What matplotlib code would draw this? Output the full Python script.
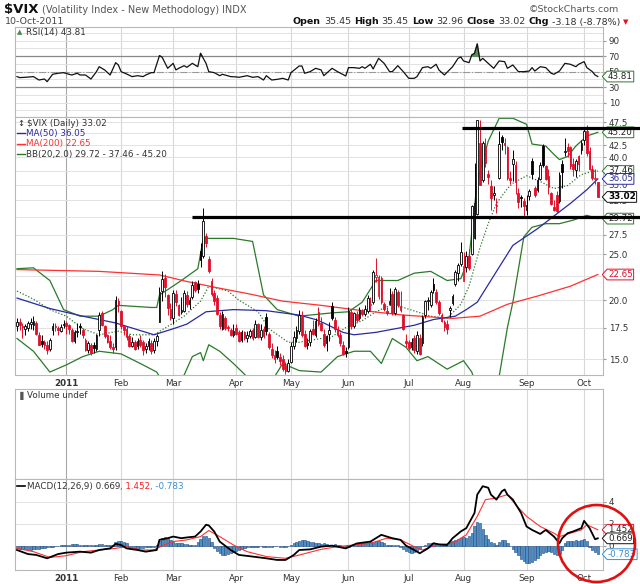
import numpy as np
import pandas as pd
import matplotlib
matplotlib.use("Agg")
import matplotlib.pyplot as plt
from matplotlib.patches import Ellipse
from matplotlib.path import Path
from matplotlib.ticker import FixedLocator, FixedFormatter, NullLocator

W, H = 640, 584
RED = "#e0102a"
BLUE = "#2a2aa0"
GREEN = "#2a7a2a"
GRID = "#e2e2e2"
TXT = "#333333"

# trading calendar
holidays = ["2010-12-24", "2011-01-17", "2011-02-21", "2011-04-22",
            "2011-05-30", "2011-07-04", "2011-09-05"]
dates = pd.bdate_range("2010-12-07", "2011-10-10", freq="C", holidays=holidays)

# daily candles (open, high, low, close)
ohlc_dec = [(17.6, 18.3, 17.2, 17.99), (18.0, 18.3, 17.3, 17.74), (17.6, 17.9, 16.6, 17.55),
            (17.4, 17.8, 16.9, 17.61), (17.5, 18.1, 17.2, 17.86), (17.8, 18.3, 17.4, 17.94),
            (17.7, 18.5, 17.3, 18.10), (17.9, 18.1, 16.9, 16.99), (16.9, 17.1, 16.1, 16.11),
            (16.4, 16.9, 15.9, 16.16), (16.3, 16.5, 15.8, 16.10), (16.1, 16.4, 15.4, 15.70),
            (15.8, 16.6, 15.6, 16.47), (17.3, 17.9, 16.9, 17.67), (17.6, 17.9, 17.2, 17.52),
            (17.5, 17.6, 16.9, 17.28), (17.2, 17.8, 17.1, 17.52), (17.7, 18.2, 17.5, 17.75)]
ohlc_jan = [(17.9, 18.1, 17.0, 17.61), (17.7, 17.8, 17.0, 17.38), (17.3, 17.5, 16.3, 16.38),
            (16.4, 17.3, 16.2, 17.14), (17.1, 17.9, 16.7, 17.14), (17.6, 17.9, 17.0, 17.54),
            (17.3, 17.5, 16.6, 16.89), (16.5, 16.6, 15.6, 15.70), (15.7, 16.4, 15.5, 16.23),
            (16.1, 16.2, 15.3, 15.46), (16.1, 16.3, 15.5, 15.87), (15.8, 17.0, 15.6, 16.90),
            (17.3, 18.9, 16.8, 18.60), (18.8, 19.0, 17.6, 17.70), (17.6, 17.7, 16.6, 16.80),
            (16.9, 17.0, 16.2, 16.30), (16.4, 16.9, 15.8, 15.90), (15.9, 16.2, 15.5, 15.80),
            (15.9, 20.4, 15.7, 20.04), (19.9, 20.2, 18.9, 19.53)]
ohlc_feb = [(19.0, 19.1, 17.4, 17.63), (17.6, 17.7, 16.9, 17.30), (17.4, 17.6, 16.5, 16.69),
            (16.8, 17.0, 15.9, 16.00), (16.0, 16.7, 15.9, 16.28), (16.3, 16.5, 15.7, 15.81),
            (16.0, 16.6, 15.8, 16.37), (16.5, 16.9, 15.9, 16.09), (16.3, 16.5, 15.3, 15.69),
            (15.8, 16.2, 15.5, 16.02), (16.0, 16.6, 15.7, 16.37), (16.2, 16.5, 15.4, 15.60),
            (15.7, 16.6, 15.5, 16.43), (16.4, 17.0, 16.0, 16.80), (18.0, 21.3, 18.0, 20.80),
            (20.9, 23.0, 19.9, 22.13), (22.3, 22.7, 20.3, 21.32), (20.5, 20.6, 18.6, 19.22),
            (19.2, 19.7, 18.2, 18.35)]
ohlc_mar = [(18.3, 21.0, 17.8, 20.70), (20.6, 21.0, 19.4, 19.85), (19.5, 19.6, 18.5, 18.60),
            (18.9, 20.3, 18.7, 19.06), (19.0, 21.0, 18.9, 20.66), (20.5, 20.9, 19.3, 19.60),
            (19.6, 20.3, 19.2, 20.00), (20.3, 22.0, 20.1, 21.50), (21.8, 22.0, 20.8, 21.00),
            (21.6, 22.1, 20.7, 21.13), (25.4, 26.4, 23.5, 24.32), (24.8, 31.3, 24.6, 29.40),
            (27.3, 27.7, 25.9, 26.40), (24.4, 24.8, 22.8, 23.00), (22.0, 22.3, 20.4, 20.61),
            (20.7, 21.0, 19.5, 19.90), (20.2, 20.5, 18.6, 18.70), (18.6, 18.9, 17.4, 17.60),
            (17.4, 19.0, 17.3, 18.70), (18.3, 18.5, 17.3, 17.50), (17.5, 17.7, 17.2, 17.45),
            (17.3, 17.5, 16.8, 16.90), (16.9, 17.8, 16.7, 17.20)]
ohlc_apr = [(17.5, 17.8, 16.9, 17.00), (17.1, 17.3, 16.3, 16.40), (16.5, 17.3, 16.3, 17.10),
            (17.1, 17.2, 16.5, 16.60), (16.6, 17.2, 16.3, 16.90), (16.8, 17.4, 16.6, 17.20),
            (17.3, 17.5, 16.5, 16.60), (16.7, 18.2, 16.6, 17.80), (17.8, 17.9, 16.6, 16.70),
            (16.7, 17.8, 16.5, 17.30), (17.4, 17.6, 16.6, 16.80), (18.4, 18.8, 16.9, 17.20),
            (17.0, 17.1, 15.8, 15.90), (15.8, 16.2, 15.1, 15.30), (15.3, 15.7, 14.7, 15.00),
            (15.6, 16.0, 15.0, 15.20), (15.2, 15.5, 14.6, 14.90), (15.0, 15.3, 14.2, 14.30),
            (14.5, 14.8, 14.0, 14.20), (14.2, 15.0, 14.1, 14.75)]
ohlc_may = [(14.8, 16.3, 14.7, 15.99), (16.0, 17.2, 15.8, 16.70), (16.6, 17.6, 16.3, 17.30),
            (17.2, 19.1, 17.0, 18.60), (18.4, 19.0, 16.7, 16.90), (17.0, 17.3, 15.9, 16.00),
            (16.2, 16.6, 15.8, 16.10), (16.3, 17.4, 16.0, 17.20), (17.4, 18.2, 16.9, 17.00),
            (16.9, 18.3, 16.7, 18.10), (18.9, 19.3, 17.6, 17.80), (17.9, 18.4, 17.2, 17.30),
            (17.0, 17.4, 15.9, 16.10), (16.2, 16.9, 15.6, 16.80), (17.0, 18.0, 16.4, 17.30),
            (19.4, 19.8, 18.2, 18.30), (18.2, 18.4, 17.1, 17.40), (17.4, 17.6, 16.7, 16.90),
            (16.9, 17.1, 16.0, 16.20), (16.1, 16.4, 15.3, 15.40), (15.6, 15.9, 15.2, 15.45)]
ohlc_jun = [(15.9, 19.3, 15.8, 19.00), (18.9, 19.2, 17.4, 17.60), (17.6, 18.9, 17.5, 18.80),
            (18.7, 19.0, 18.0, 18.20), (18.3, 19.3, 18.2, 19.10), (19.0, 19.2, 18.5, 18.70),
            (18.7, 19.5, 18.5, 19.20), (19.0, 20.5, 18.8, 20.20), (19.5, 20.3, 19.0, 19.60),
            (19.8, 23.2, 19.6, 22.90), (22.4, 24.5, 21.8, 22.60), (20.4, 22.6, 20.1, 22.40),
            (22.3, 22.5, 19.6, 19.80), (19.6, 19.8, 19.0, 19.20), (19.0, 19.3, 18.6, 18.80),
            (19.6, 21.2, 19.5, 19.90), (20.6, 20.9, 18.6, 18.80), (18.8, 21.3, 18.6, 21.10),
            (20.8, 21.0, 19.3, 19.50), (19.4, 20.9, 18.9, 19.10), (18.6, 18.7, 17.3, 17.40),
            (16.4, 17.0, 15.9, 16.20)]
ohlc_jul = [(16.3, 16.5, 15.7, 15.87), (15.9, 16.6, 15.7, 16.34), (16.6, 16.9, 15.5, 15.70),
            (15.6, 17.2, 15.4, 16.90), (16.6, 17.0, 15.3, 15.40), (16.2, 18.6, 16.0, 18.39),
            (18.6, 20.0, 18.3, 19.87), (19.9, 20.3, 19.1, 20.00), (19.5, 21.0, 19.3, 20.80),
            (21.6, 22.3, 20.7, 21.00), (20.8, 21.1, 19.6, 19.80), (19.8, 20.0, 18.6, 18.80),
            (18.6, 18.8, 18.0, 18.10), (18.0, 18.2, 17.2, 17.52), (17.8, 18.2, 17.0, 17.35),
            (19.1, 19.4, 18.4, 19.20), (19.7, 20.6, 19.5, 20.40), (21.6, 23.2, 21.4, 22.98),
            (22.8, 24.0, 22.0, 23.74), (23.8, 26.5, 23.6, 25.25)]
ohlc_aug = [(22.0, 25.3, 21.9, 23.66), (23.5, 25.4, 22.9, 24.79), (24.8, 25.7, 23.1, 23.38),
            (25.0, 31.8, 24.9, 31.66), (27.0, 39.0, 26.9, 32.00), (30.4, 48.0, 30.2, 48.00),
            (43.0, 48.0, 35.0, 35.06), (35.8, 43.3, 35.5, 42.99), (42.2, 44.0, 38.2, 39.00),
            (36.9, 37.7, 35.2, 36.36), (34.8, 35.9, 31.0, 32.85), (33.4, 34.8, 32.6, 33.40),
            (31.8, 32.9, 30.5, 31.58), (36.2, 45.5, 36.0, 42.67), (44.2, 44.7, 41.5, 43.05),
            (42.9, 44.0, 40.6, 42.44), (42.0, 42.3, 35.9, 36.27), (36.2, 37.5, 35.2, 35.90),
            (38.8, 41.5, 35.7, 39.76), (38.5, 39.3, 33.5, 35.59), (33.6, 34.5, 31.3, 32.28),
            (32.9, 33.4, 31.4, 32.89), (32.4, 32.9, 29.8, 31.62)]
ohlc_sep = [(31.0, 33.3, 30.2, 31.82), (33.2, 34.4, 32.5, 33.92), (39.3, 39.9, 36.1, 37.00),
            (34.5, 34.9, 33.0, 33.38), (34.2, 36.4, 33.8, 35.90), (36.0, 39.2, 35.8, 38.52),
            (42.3, 42.7, 38.2, 38.59), (38.3, 38.6, 35.9, 36.10), (36.6, 37.8, 33.5, 34.60),
            (33.6, 33.9, 31.8, 31.97), (31.5, 32.6, 30.8, 30.98), (33.4, 34.0, 30.6, 30.90),
            (32.4, 37.2, 32.0, 36.80), (38.7, 39.5, 34.5, 37.32), (41.0, 43.9, 40.3, 41.35),
            (42.0, 43.0, 40.0, 41.25), (42.0, 42.4, 37.8, 38.40), (38.8, 39.9, 36.5, 37.80),
            (37.6, 39.8, 36.3, 39.30), (40.3, 40.5, 37.5, 38.84), (41.5, 43.5, 40.6, 42.96)]
ohlc_oct = [(43.5, 46.2, 42.5, 45.45), (45.5, 46.9, 40.2, 40.82), (41.2, 42.0, 37.6, 37.81),
            (37.9, 38.6, 35.8, 36.27), (36.0, 37.9, 35.2, 36.20), (35.45, 35.45, 32.96, 33.02)]

# overlays: (bar index, value)
ma50_idx = [0, 12, 24, 36, 50, 57, 62, 69, 79, 91, 103, 109, 112, 119, 123, 131, 138, 145,
            152, 160, 164, 168, 174, 181, 190, 196, 202, 208, 212]
ma50_val = [20.2, 19.2, 18.5, 17.9, 16.9, 17.4, 17.8, 18.9, 19.1, 19.0, 18.6, 18.2, 17.9, 17.1,
            16.9, 17.1, 17.4, 17.7, 18.2, 18.5, 19.1, 19.8, 22.5, 26.1, 28.3, 30.1, 32.0, 34.2, 36.05]
ma200_idx = [0, 30, 52, 62, 72, 85, 97, 111, 123, 141, 159, 169, 179, 190, 202, 212]
ma200_val = [23.2, 23.0, 22.6, 21.9, 21.3, 20.6, 19.9, 19.5, 19.1, 18.6, 18.3, 18.5, 19.6,
             20.4, 21.4, 22.65]
bbu_idx = [0, 6, 12, 17, 23, 30, 35, 37, 49, 51, 52, 60, 66, 68, 79, 86, 90, 95, 103, 111,
           115, 121, 126, 131, 139, 145, 151, 157, 162, 165, 168, 172, 176, 181, 186, 188,
           193, 196, 198, 201, 204, 208, 212]
bbu_val = [23.3, 23.4, 22.0, 19.1, 18.5, 18.5, 19.1, 19.5, 19.3, 19.3, 20.5, 22.0, 23.3,
           27.0, 27.0, 26.6, 20.5, 19.1, 18.5, 18.7, 18.8, 18.9, 19.8, 22.0, 22.0, 22.8, 23.0,
           22.0, 22.2, 24.6, 35.6, 43.3, 48.4, 48.4, 47.0, 42.7, 42.3, 40.6, 39.6, 40.2, 42.3,
           44.4, 45.20]
bbl_idx = [0, 6, 12, 18, 24, 30, 38, 45, 51, 54, 58, 61, 64, 67, 68, 70, 74, 79, 85, 89,
           92, 97, 103, 111, 117, 123, 129, 133, 137, 142, 146, 150, 157, 163, 166, 169,
           172, 175, 176, 179, 181, 185, 188, 193, 198, 203, 208, 212]
bbl_val = [16.6, 15.6, 14.1, 14.6, 15.2, 15.6, 15.4, 14.7, 14.1, 13.2, 13.2, 13.9, 15.2,
           15.5, 14.9, 16.1, 15.6, 14.7, 13.6, 12.8, 13.2, 14.7, 14.2, 14.1, 15.2, 15.6, 15.6,
           14.7, 16.6, 15.9, 14.9, 15.2, 14.3, 14.9, 14.1, 12.5, 10.5, 11.0, 13.8, 17.5, 19.8,
           27.2, 28.5, 29.0, 29.0, 29.5, 30.2, 29.72]
bbm_idx = [0, 6, 12, 18, 24, 30, 37, 42, 50, 55, 61, 67, 70, 77, 81, 88, 92, 99, 103, 111,
           114, 120, 126, 131, 137, 141, 146, 151, 157, 162, 165, 169, 172, 175, 179, 181,
           186, 191, 196, 201, 206, 210, 212]
bbm_val = [20.9, 20.1, 19.1, 18.5, 17.4, 16.9, 17.2, 16.9, 16.9, 17.6, 18.5, 19.9, 21.4,
           20.9, 20.0, 18.9, 17.4, 16.3, 16.3, 16.6, 16.6, 17.5, 18.1, 18.9, 19.6, 19.3, 18.9,
           18.5, 18.3, 19.6, 21.4, 25.8, 29.0, 32.0, 34.4, 35.3, 36.6, 35.6, 34.4, 34.9, 36.8,
           37.4, 37.46]

rsi_idx = [0, 1, 3, 6, 8, 10, 11, 13, 15, 17, 19, 20, 22, 23, 25, 27, 29, 30, 32, 34, 36,
           37, 38, 40, 42, 44, 46, 47, 49, 50, 52, 53, 55, 57, 58, 59, 61, 62, 64, 66, 67, 69,
           70, 72, 74, 75, 78, 80, 81, 84, 86, 88, 90, 91, 93, 95, 97, 99, 100, 103, 104, 105,
           107, 109, 111, 112, 115, 117, 120, 121, 123, 125, 126, 127, 129, 130, 132, 134,
           136, 137, 139, 141, 143, 145, 146, 148, 150, 151, 153, 154, 156, 159, 161, 162,
           163, 165, 166, 167, 168, 169, 170, 172, 174, 176, 178, 179, 181, 183, 185, 187,
           188, 189, 191, 193, 195, 196, 198, 200, 202, 204, 205, 207, 208, 210, 211, 212]
rsi_val = [43.7, 42.4, 42.8, 43.7, 39.3, 40.6, 37.2, 46.7, 48.0, 48.8, 46.7, 45.8, 48.0,
           45.8, 45.8, 40.6, 50.1, 56.5, 52.3, 45.8, 61.7, 58.7, 50.1, 47.1, 43.7, 44.9, 43.7,
           45.8, 48.8, 48.8, 70.7, 68.6, 54.4, 60.8, 52.3, 54.4, 57.8, 55.7, 60.8, 56.5, 73.7,
           60.8, 50.1, 48.8, 44.9, 46.7, 43.7, 43.3, 42.8, 44.9, 42.8, 43.7, 39.3, 44.9, 39.3,
           40.2, 41.5, 39.3, 48.8, 57.4, 57.4, 48.0, 50.1, 54.4, 52.3, 44.9, 54.4, 50.1, 44.5,
           55.3, 55.3, 54.4, 56.5, 54.4, 59.6, 53.6, 67.3, 60.8, 50.1, 50.1, 57.8, 50.1, 41.5,
           41.5, 43.7, 55.3, 56.5, 54.4, 59.6, 52.3, 45.8, 56.5, 67.3, 69.0, 63.9, 61.7, 71.6,
           73.7, 85.8, 63.9, 67.3, 60.8, 54.4, 63.9, 63.0, 54.4, 58.7, 50.1, 50.1, 50.9, 55.3,
           50.9, 56.5, 55.3, 48.0, 46.7, 50.9, 60.8, 59.6, 56.5, 59.6, 63.0, 55.3, 50.1, 45.8,
           43.81]

macd_idx = [0, 4, 7, 11, 15, 18, 23, 27, 30, 34, 36, 38, 40, 44, 47, 51, 52, 55, 57, 60,
            62, 65, 67, 69, 70, 72, 74, 78, 81, 86, 91, 95, 98, 101, 103, 107, 111, 115, 120,
            124, 129, 133, 135, 137, 140, 142, 145, 147, 150, 152, 154, 157, 159, 162, 164,
            167, 168, 170, 172, 173, 175, 177, 178, 179, 181, 184, 186, 188, 191, 193, 196,
            198, 199, 201, 203, 206, 207, 209, 211, 212]
macd_val = [-0.40, -0.77, -0.85, -1.16, -0.77, -0.64, -0.55, -0.64, -0.40, -0.25, 0.16,
            0.06, -0.25, -0.40, -0.55, -0.40, 0.53, 0.68, 0.83, 0.68, 0.75, 0.83, 1.29, 1.91,
            1.85, 1.29, 0.37, -0.40, -0.85, -1.00, -1.16, -1.31, -1.31, -0.86, -0.40, -0.34,
            -0.09, 0.00, -0.25, 0.20, 0.37, 0.99, 0.83, 0.68, 0.53, 0.00, -0.40, -0.70, -0.25,
            0.22, 0.12, 0.06, 0.68, 1.30, 1.60, 2.99, 4.67, 5.44, 5.30, 4.67, 4.21, 4.98,
            5.14, 4.67, 4.21, 2.99, 1.75, 1.44, 1.07, 1.44, 0.83, 0.22, 0.68, 1.14, 1.30,
            1.60, 2.27, 1.60, 0.59, 0.669]
signal_idx = [0, 6, 12, 18, 24, 30, 36, 40, 45, 50, 53, 57, 62, 67, 70, 74, 79, 84, 91,
              98, 103, 111, 117, 123, 129, 135, 140, 145, 148, 153, 159, 164, 168, 171, 175,
              179, 182, 186, 191, 196, 198, 202, 206, 208, 212]
signal_val = [-0.25, -0.55, -1.08, -0.92, -0.55, -0.40, -0.25, -0.09, -0.40, -0.40, 0.00,
              0.37, 0.53, 0.83, 1.38, 0.83, 0.06, -0.55, -1.00, -1.16, -0.86, -0.34, -0.09,
              0.06, 0.22, 0.68, 0.53, -0.09, -0.40, 0.06, 0.22, 0.99, 2.68, 4.21, 4.36, 4.67,
              3.75, 2.68, 1.75, 1.14, 0.83, 1.14, 1.44, 1.91, 1.452]
hist_val = [-0.2, -0.3, -0.3, -0.3, -0.4, -0.4, -0.3, -0.3, -0.3, -0.2, -0.2,
            -0.1, -0.1, -0.1, 0.0, 0.0, 0.1, 0.1,
            0.1, 0.1, 0.15, 0.15, 0.15, 0.1, 0.1, 0.1, 0.05, 0.05, 0.1, 0.1, 0.15, 0.15, 0.1,
            0.1, 0.05, 0.05, 0.3,
            0.4, 0.4, 0.3, 0.2,
            -0.1, -0.15, -0.2, -0.2, -0.2, -0.2, -0.15, -0.15, -0.1, -0.1,
            0.1, 0.4, 0.7, 0.8, 0.7, 0.5,
            0.3, 0.2, 0.2, 0.2, 0.15, 0.15, 0.1, 0.1, 0.1,
            0.3, 0.6, 0.9, 0.9, 0.7,
            0.3, -0.2, -0.5, -0.7, -0.9, -0.9,
            -0.8, -0.7, -0.6, -0.5, -0.4, -0.3,
            -0.2, -0.15, -0.1, -0.1, -0.1, -0.1, -0.05, -0.1, -0.1, -0.1, -0.1, -0.05, -0.05,
            -0.1, -0.1, -0.1, -0.05, 0.05,
            0.2, 0.3, 0.4, 0.5, 0.5, 0.4, 0.35, 0.3, 0.25, 0.2,
            0.15, 0.2, 0.15, 0.1, 0.1, 0.15, 0.1, 0.05,
            -0.05, -0.15, -0.1, 0.0, 0.05,
            0.1, 0.15, 0.2, 0.2, 0.25, 0.3, 0.35, 0.4, 0.4, 0.3,
            0.2, 0.1, 0.1, 0.05, 0.1, 0.05,
            -0.1, -0.3, -0.5, -0.6, -0.7, -0.6, -0.5, -0.3,
            0.0, 0.1, 0.2, 0.2, 0.2, 0.15, 0.1, 0.1, 0.05, 0.05,
            0.3, 0.4, 0.5, 0.6, 0.7, 0.8, 0.7, 0.9,
            1.2, 1.8, 2.2, 2.1, 1.5, 1.0,
            0.6, 0.3, 0.2, 0.1, 0.3,
            0.5, 0.5, 0.2, 0.0,
            -0.3, -0.6, -0.9, -1.2, -1.4,
            -1.6, -1.6, -1.5, -1.3, -1.1,
            -0.9, -0.7, -0.6, -0.5, -0.6, -0.8,
            -0.9, -0.8, -0.4,
            0.2, 0.4, 0.4, 0.4, 0.5, 0.4, 0.5, 0.6,
            0.4, -0.1, -0.4, -0.6, -0.783]

resistance = 46.1
support = 30.0

ohlc = np.array(ohlc_dec + ohlc_jan + ohlc_feb + ohlc_mar + ohlc_apr + ohlc_may +
                ohlc_jun + ohlc_jul + ohlc_aug + ohlc_sep + ohlc_oct)
opens, highs, lows, closes = ohlc.T
x = np.arange(len(dates))
n = min(len(x), len(ohlc))
x, opens, highs, lows, closes = x[:n], opens[:n], highs[:n], lows[:n], closes[:n]
hist_val = np.array(hist_val[:n])

# month starts for gridlines / labels
month_pos, month_lab = [], []
for i in range(1, len(dates)):
    if dates[i].month != dates[i - 1].month:
        month_pos.append(i)
        month_lab.append("2011" if dates[i].month == 1 else dates[i].strftime("%b"))

XMIN, XMAX = -0.73, 213.9


def rect(top, bottom, left=15, right=603):
    return [left / W, 1 - bottom / H, (right - left) / W, (bottom - top) / H]


def fx(px):
    return px / W


def fy(py):
    return 1 - py / H


def style_panel(ax, show_x=False):
    ax.set_xlim(XMIN, XMAX)
    for s in ax.spines.values():
        s.set_color("#b8b8b8")
        s.set_linewidth(0.8)
    ax.yaxis.tick_right()
    ax.tick_params(axis="y", length=2, color="#999999", labelsize=6.3, labelcolor=TXT, pad=2)
    ax.set_xticks(month_pos)
    ax.tick_params(axis="x", length=0, labelsize=6.3, labelcolor=TXT, pad=3)
    if show_x:
        ax.set_xticklabels(month_lab)
        for lab in ax.get_xticklabels():
            if lab.get_text() == "2011":
                lab.set_fontweight("bold")
    else:
        ax.set_xticklabels([])
    for p, lab in zip(month_pos, month_lab):
        ax.axvline(p, color="#a8a8a8" if lab == "2011" else "#d8d8d8", lw=0.8, zorder=0)


def notch_box(x0, y0, width, height, mutation_size):
    # value tag: small box with a pointed left side
    pad = 0.1 * mutation_size
    x0, y0 = x0 - pad, y0 - pad
    x1, y1 = x0 + width + 2 * pad, y0 + height + 2 * pad
    d = (y1 - y0) * 0.45
    return Path([(x0, y0), (x1, y0), (x1, y1), (x0, y1), (x0 - d, (y0 + y1) / 2),
                 (x0, y0), (x0, y0)], closed=True)


def tag(ax, y, s, ec, tc="#222222", bold=False):
    ax.annotate(s, xy=(1, y), xycoords=("axes fraction", "data"), xytext=(3.6, 0),
                textcoords="offset points", ha="left", va="center", fontsize=6.3, color=tc,
                fontweight="bold" if bold else "normal", annotation_clip=False, zorder=6,
                bbox=dict(boxstyle=notch_box, fc="white", ec=ec, lw=0.7))


fig = plt.figure(figsize=(W / 100, H / 100), dpi=100)
fig.patch.set_facecolor("white")
renderer = fig.canvas.get_renderer()


def text_run(px, py, pieces, ha="left", gap=3):
    # pieces: (text, size, weight, color), laid out left to right
    arts = []
    for s, size, weight, color in pieces:
        arts.append(fig.text(0, fy(py), s, fontsize=size, fontweight=weight, color=color,
                             va="center"))
    widths = [a.get_window_extent(renderer).width for a in arts]
    total = sum(widths) + gap * (len(arts) - 1)
    cur = px - total if ha == "right" else px
    for a, w in zip(arts, widths):
        a.set_x(fx(cur))
        cur += w + gap


# header
text_run(4, 10, [("$VIX", 9.5, "bold", "#111111"),
                 ("(Volatility Index - New Methodology)", 7, "normal", "#555555"),
                 ("INDX", 7, "normal", "#555555")])
fig.text(fx(5), fy(22), "10-Oct-2011", fontsize=6.8, color="#444444", va="center")
fig.text(fx(619), fy(9), "\u00a9StockCharts.com", fontsize=6.8, color="#555555",
         va="center", ha="right")
B, N, C1, C2 = "bold", "normal", "#111111", "#333333"
text_run(620, 22, [("Open", 6.8, B, C1), ("35.45", 6.8, N, C2), ("High", 6.8, B, C1),
                   ("35.45", 6.8, N, C2), ("Low", 6.8, B, C1), ("32.96", 6.8, N, C2),
                   ("Close", 6.8, B, C1), ("33.02", 6.8, N, C2), ("Chg", 6.8, B, C1),
                   ("-3.18 (-8.78%)", 6.8, N, C2)], ha="right")
fig.text(fx(623), fy(22), "\u25bc", fontsize=5, color=RED, va="center")

# RSI panel
ax_rsi = fig.add_axes(rect(27, 117))
style_panel(ax_rsi)
ax_rsi.set_ylim(-8.4, 107.7)
ax_rsi.set_yticks([10, 30, 50, 70, 90])
for lvl in range(0, 101, 10):
    ax_rsi.axhline(lvl, color=GRID, lw=0.7, zorder=0)
ax_rsi.axhline(70, color="#888888", lw=0.9, zorder=1)
ax_rsi.axhline(30, color="#888888", lw=0.9, zorder=1)
ax_rsi.axhline(50, color="#999999", lw=0.8, ls="-.", zorder=1)
rsi_x = np.array(rsi_idx, dtype=float)
rsi_y = np.array(rsi_val)
ax_rsi.fill_between(rsi_x, rsi_y, 70, where=rsi_y > 70, interpolate=True,
                    color="#5a8f5a", zorder=2)
ax_rsi.plot(rsi_x, rsi_y, color="#111111", lw=0.9, zorder=3)
tag(ax_rsi, rsi_val[-1], "43.81", GREEN)
fig.text(fx(17), fy(32), "\u25b2", fontsize=5, color="#4a8a4a", va="center")
fig.text(fx(26), fy(32), "RSI(14) 43.81", fontsize=6.3, color=TXT, va="center")

# price panel
ax = fig.add_axes(rect(117, 375))
ax.set_yscale("log")
style_panel(ax, show_x=True)
ax.set_ylim(13.9, 48.7)
yt = [15.0, 17.5, 20.0, 22.5, 25.0, 27.5, 30.0, 32.5, 35.0, 37.5, 40.0, 42.5, 45.0, 47.5]
hidden = {22.5, 30.0, 37.5, 45.0}   # covered by the value tags on the chart
ax.yaxis.set_major_locator(FixedLocator(yt))
ax.yaxis.set_major_formatter(FixedFormatter(["" if v in hidden else "%.1f" % v for v in yt]))
ax.yaxis.set_minor_locator(NullLocator())
for v in yt:
    ax.axhline(v, color=GRID, lw=0.7, zorder=0)

ax.plot(bbu_idx, bbu_val, color=GREEN, lw=0.9, zorder=2)
ax.plot(bbl_idx, bbl_val, color=GREEN, lw=0.9, zorder=2)
ax.plot(bbm_idx, bbm_val, color=GREEN, lw=0.9, ls=(0, (1, 1.5)), zorder=2)
ax.plot(ma200_idx, ma200_val, color="#ff3030", lw=0.9, zorder=2)
ax.plot(ma50_idx, ma50_val, color=BLUE, lw=0.9, zorder=2)

prev = np.r_[closes[0], closes[:-1]]
edge = np.where(closes >= prev, "#000000", RED)
fill = np.where(closes < opens, edge, "white")
ax.vlines(x, lows, highs, colors=edge, lw=0.7, zorder=3)
body_lo = np.minimum(opens, closes)
body_h = np.maximum(np.abs(closes - opens), body_lo * 0.006)
ax.bar(x, body_h, bottom=body_lo, width=0.62, color=fill, edgecolor=edge, lw=0.6, zorder=4)

ax.plot([162.4, 227.4], [resistance, resistance], color="black", lw=2.3, clip_on=False,
        solid_capstyle="butt", zorder=7)
ax.plot([63.9, 227.4], [support, support], color="black", lw=2.3, clip_on=False,
        solid_capstyle="butt", zorder=7)

tag(ax, bbu_val[-1], "45.20", GREEN)
tag(ax, bbm_val[-1], "37.46", GREEN)
tag(ax, ma50_val[-1], "36.05", BLUE, tc=BLUE)
tag(ax, closes[-1], "33.02", "#111111", tc="#000000", bold=True)
tag(ax, bbl_val[-1], "29.72", GREEN)
tag(ax, ma200_val[-1], "22.65", RED, tc=RED)

fig.text(fx(17), fy(123), "\u2195", fontsize=6, color="#222222", va="center")
fig.text(fx(27), fy(123), "$VIX (Daily) 33.02", fontsize=6.3, color=TXT, va="center")
legend_rows = [("MA(50) 36.05", BLUE, BLUE), ("MA(200) 22.65", "#ff3030", "#ff3030"),
               ("BB(20,2.0) 29.72 - 37.46 - 45.20", GREEN, TXT)]
for k, (s, lc, tc) in enumerate(legend_rows):
    yy = 133.5 + 10.3 * k
    fig.add_artist(plt.Line2D([fx(16.5), fx(24.5)], [fy(yy), fy(yy)], color=lc, lw=1.0))
    fig.text(fx(26), fy(yy), s, fontsize=6.3, color=tc, va="center")

# volume panel (no data)
ax_vol = fig.add_axes(rect(389, 479))
style_panel(ax_vol)
ax_vol.set_ylim(0, 1)
ax_vol.set_yticks([])
fig.text(fx(17), fy(395), "\u2590", fontsize=6, color="#555555", va="center")
fig.text(fx(27), fy(395), "Volume undef", fontsize=6.3, color=TXT, va="center")

# MACD panel
ax_m = fig.add_axes(rect(479, 570))
style_panel(ax_m, show_x=True)
ax_m.set_ylim(-2.23, 6.1)
ax_m.set_yticks([0, 2, 4])
for v in [2, 4]:
    ax_m.axhline(v, color=GRID, lw=0.7, zorder=0)
ax_m.axhline(0, color="#c8c8c8", lw=0.7, zorder=0)
ax_m.bar(x, hist_val, width=0.85, color="#4f8fc7", edgecolor="#1d4a80", lw=0.4, zorder=2)
ax_m.plot(signal_idx, signal_val, color="#ff3030", lw=0.8, zorder=3)
ax_m.plot(macd_idx, macd_val, color="#000000", lw=1.3, zorder=4)
tag(ax_m, signal_val[-1], "1.452", RED)
tag(ax_m, macd_val[-1], "0.669", "#111111")
tag(ax_m, hist_val[-1], "-0.783", "#3a8fd0", tc="#3a8fd0")

fig.add_artist(plt.Line2D([fx(16.5), fx(24.5)], [fy(486), fy(486)], color="black", lw=1.2))
text_run(27, 486, [("MACD(12,26,9) 0.669", 6.3, N, TXT), (", 1.452", 6.3, N, "#ff2020"),
                   (", -0.783", 6.3, N, "#3a8fd0")], gap=0)

# hand-drawn red circle
fig.add_artist(Ellipse((fx(596.5), fy(543.5)), 77 / W, 77 / H, fill=False, ec="#e01010",
                       lw=1.9, zorder=10))

fig.savefig("out.png", dpi=100, facecolor="white")
